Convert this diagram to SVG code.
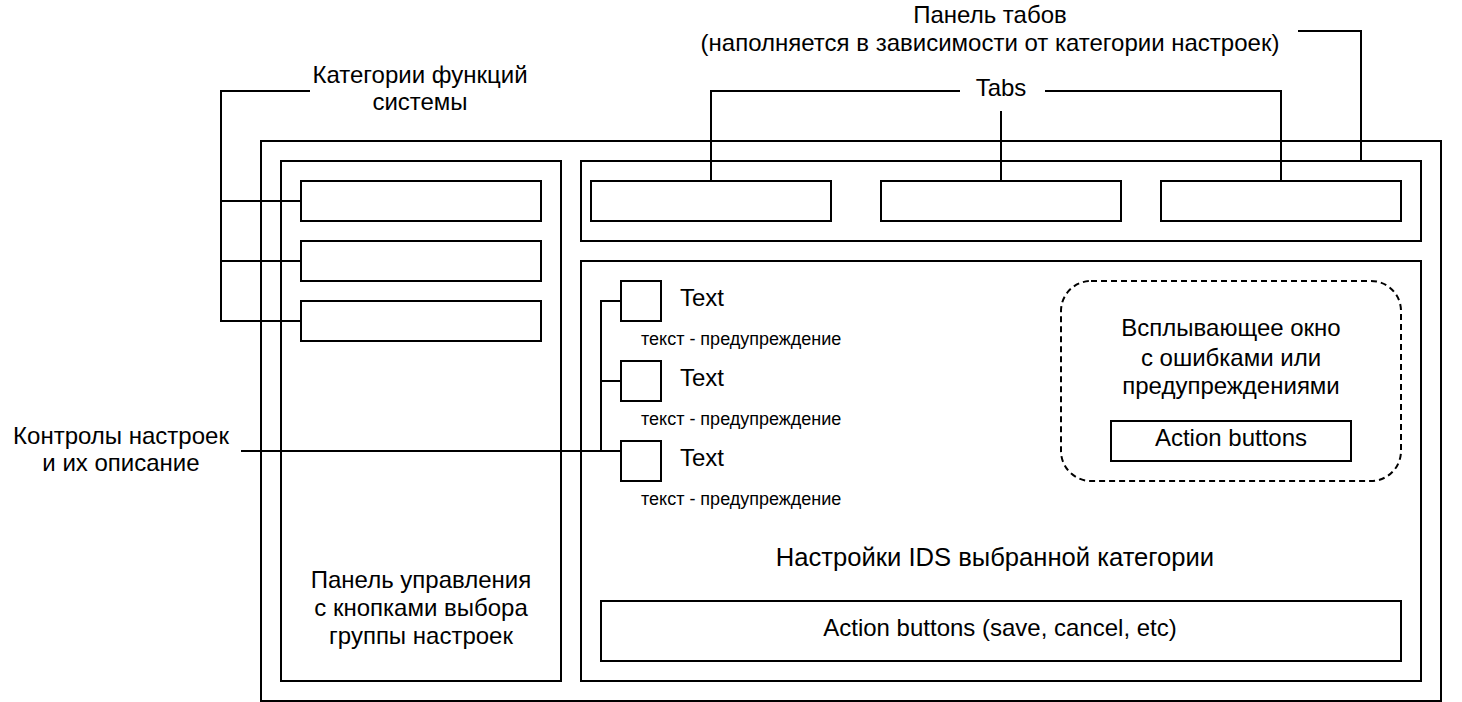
<svg xmlns="http://www.w3.org/2000/svg" width="1462" height="702" viewBox="0 0 1462 702">
<style>
.b{fill:#fff;stroke:#000;stroke-width:2}
.l{fill:none;stroke:#000;stroke-width:2}
text{font-family:"Liberation Sans",Arial,sans-serif;font-size:24px;fill:#000;text-anchor:middle;dominant-baseline:central}
.s{font-size:18px;text-anchor:start}
.st{text-anchor:start}
.lg{font-size:25.6px}
</style>
<rect width="1462" height="702" fill="#fff"/>
<g id="window"><rect class="b" x="261" y="141" width="1180" height="560"/></g>
<g id="left-panel"><rect class="b" x="281" y="161" width="280" height="520"/>
<text x="421" y="579">Панель управления</text>
<text x="421" y="607">с кнопками выбора</text>
<text x="421" y="635">группы настроек</text></g>
<g id="cat1"><rect class="b" x="301" y="181" width="240" height="40"/></g>
<g id="cat2"><rect class="b" x="301" y="241" width="240" height="40"/></g>
<g id="cat3"><rect class="b" x="301" y="301" width="240" height="40"/></g>
<g id="tabs-panel"><rect class="b" x="581" y="161" width="840" height="80"/></g>
<g id="tab1"><rect class="b" x="591" y="181" width="240" height="40"/></g>
<g id="tab2"><rect class="b" x="881" y="181" width="240" height="40"/></g>
<g id="tab3"><rect class="b" x="1161" y="181" width="240" height="40"/></g>
<g id="settings-panel"><rect class="b" x="581" y="261" width="840" height="420"/>
<text class="lg" x="995" y="557">Настройки IDS выбранной категории</text></g>
<g id="ctrl1"><rect class="b" x="621" y="281" width="40" height="40"/>
<text class="st" x="680" y="297">Text</text>
<text class="s" x="641" y="339">текст - предупреждение</text></g>
<g id="ctrl2"><rect class="b" x="621" y="361" width="40" height="40"/>
<text class="st" x="680" y="377">Text</text>
<text class="s" x="641" y="419">текст - предупреждение</text></g>
<g id="ctrl3"><rect class="b" x="621" y="441" width="40" height="40"/>
<text class="st" x="680" y="457">Text</text>
<text class="s" x="641" y="499">текст - предупреждение</text></g>
<g id="popup"><rect class="b" x="1061" y="281" width="340" height="200" rx="30" ry="30" stroke-dasharray="6 4"/>
<text x="1231" y="327">Всплывающее окно</text>
<text x="1231" y="357">с ошибками или</text>
<text x="1231" y="385">предупреждениями</text></g>
<g id="popup-actions"><rect class="b" x="1111" y="421" width="240" height="40"/>
<text x="1231" y="437">Action buttons</text></g>
<g id="actions"><rect class="b" x="601" y="601" width="800" height="60"/>
<text x="1000" y="627">Action buttons (save, cancel, etc)</text></g>
<g id="label-cat"><text x="420" y="74">Категории функций</text><text x="420" y="101">системы</text></g>
<g id="label-tabs"><text x="1001" y="87">Tabs</text></g>
<g id="label-tabpanel"><text x="990" y="14">Панель табов</text><text x="990" y="42">(наполняется в зависимости от категории настроек)</text></g>
<g id="label-ctrl"><text x="121" y="435">Контролы настроек</text><text x="121" y="462">и их описание</text></g>
<g id="connectors">
<path class="l" d="M310 91H221V321H301M221 201H301M221 261H301"/>
<path class="l" d="M960 91H711V181M1045 91H1281V181M1001 111V181"/>
<path class="l" d="M1298 31H1361V161"/>
<path class="l" d="M241 451H621M601 451V301H621M601 381H621"/>
</g>
</svg>
